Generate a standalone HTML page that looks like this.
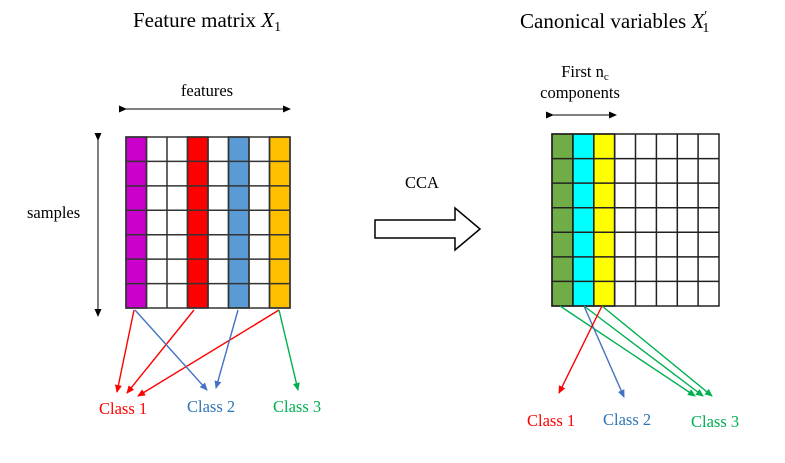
<!DOCTYPE html>
<html><head><style>
body{margin:0;width:785px;height:458px;background:#fff;overflow:hidden}
svg{font-family:"Liberation Serif",serif}
</style></head><body>
<svg width="785" height="458" viewBox="0 0 785 458">
<defs>
<marker id="k" markerWidth="8" markerHeight="8" refX="7" refY="4" orient="auto" markerUnits="userSpaceOnUse"><path d="M0,0.5 L8,4 L0,7.5z" fill="#000"/></marker>
<marker id="r" markerWidth="8" markerHeight="8" refX="7" refY="4" orient="auto" markerUnits="userSpaceOnUse"><path d="M0,0.5 L8,4 L0,7.5z" fill="#ff0000"/></marker>
<marker id="b" markerWidth="8" markerHeight="8" refX="7" refY="4" orient="auto" markerUnits="userSpaceOnUse"><path d="M0,0.5 L8,4 L0,7.5z" fill="#4472c4"/></marker>
<marker id="g" markerWidth="8" markerHeight="8" refX="7" refY="4" orient="auto" markerUnits="userSpaceOnUse"><path d="M0,0.5 L8,4 L0,7.5z" fill="#00b050"/></marker>
</defs>
<text x="207" y="27" font-size="21" text-anchor="middle">Feature matrix <tspan font-style="italic">X</tspan><tspan font-size="14" dy="4">1</tspan></text>
<text x="520" y="28" font-size="21">Canonical variables <tspan font-style="italic">X</tspan><tspan font-size="14" dy="-8">′</tspan><tspan font-size="14" dy="12" dx="-5">1</tspan></text>
<text x="207" y="96" font-size="16.5" text-anchor="middle">features</text>
<line x1="126" y1="109" x2="290" y2="109" stroke="#000" marker-start="url(#k)" marker-end="url(#k)"/>
<text x="27" y="218" font-size="16.5">samples</text>
<line x1="98" y1="140" x2="98" y2="316" stroke="#000" marker-start="url(#k)" marker-end="url(#k)"/>
<g stroke="#333" stroke-width="1.5">
<rect x="126" y="137" width="20.5" height="171" fill="#cc00cc"/>
<rect x="187.5" y="137" width="20.5" height="171" fill="#ff0000"/>
<rect x="228.5" y="137" width="20.5" height="171" fill="#5b9bd5"/>
<rect x="269.5" y="137" width="20.5" height="171" fill="#ffc000"/>
<rect x="126" y="137" width="164" height="171" fill="none"/>
<path d="M146.5 137V308M167 137V308M187.5 137V308M208 137V308M228.5 137V308M249 137V308M269.5 137V308M126 161.4H290M126 185.9H290M126 210.3H290M126 234.7H290M126 259.1H290M126 283.6H290"/>
</g>
<g stroke-width="1.4" fill="none">
<line x1="134" y1="310" x2="117" y2="392" stroke="#ff0000" marker-end="url(#r)"/>
<line x1="194" y1="310" x2="127" y2="393" stroke="#ff0000" marker-end="url(#r)"/>
<line x1="279" y1="310" x2="138" y2="396" stroke="#ff0000" marker-end="url(#r)"/>
<line x1="135" y1="310" x2="207" y2="390" stroke="#4472c4" marker-end="url(#b)"/>
<line x1="238" y1="310" x2="216" y2="388" stroke="#4472c4" marker-end="url(#b)"/>
<line x1="279" y1="310" x2="298" y2="390" stroke="#00b050" marker-end="url(#g)"/>
</g>
<text x="99" y="414" font-size="16.5" fill="#ff0000">Class 1</text>
<text x="187" y="412" font-size="16.5" fill="#2e75b6">Class 2</text>
<text x="273" y="412" font-size="16.5" fill="#00b050">Class 3</text>
<text x="422" y="188" font-size="16.5" text-anchor="middle">CCA</text>
<path d="M375 220H455V208L480 229L455 250V238H375Z" fill="#fff" stroke="#000" stroke-width="1.5"/>
<text x="585" y="77" font-size="16.5" text-anchor="middle">First n<tspan font-size="11" dy="3">c</tspan></text>
<text x="580" y="98" font-size="16.5" text-anchor="middle">components</text>
<line x1="553" y1="115" x2="616" y2="115" stroke="#000" marker-start="url(#k)" marker-end="url(#k)"/>
<g stroke="#222" stroke-width="1.5">
<rect x="552" y="134" width="20.9" height="172" fill="#70ad47"/>
<rect x="572.9" y="134" width="20.9" height="172" fill="#00ffff"/>
<rect x="593.8" y="134" width="20.9" height="172" fill="#ffff00"/>
<rect x="552" y="134" width="167" height="172" fill="none"/>
<path d="M572.9 134V306M593.8 134V306M614.6 134V306M635.5 134V306M656.4 134V306M677.3 134V306M698.1 134V306M552 158.6H719M552 183.1H719M552 207.7H719M552 232.3H719M552 256.9H719M552 281.4H719"/>
</g>
<g stroke-width="1.4" fill="none">
<line x1="560" y1="306" x2="695" y2="396" stroke="#00b050" marker-end="url(#g)"/>
<line x1="584" y1="306" x2="703" y2="396" stroke="#00b050" marker-end="url(#g)"/>
<line x1="602" y1="306" x2="712" y2="396" stroke="#00b050" marker-end="url(#g)"/>
<line x1="584" y1="306" x2="624" y2="397" stroke="#4472c4" marker-end="url(#b)"/>
<line x1="602" y1="306" x2="559" y2="393" stroke="#ff0000" marker-end="url(#r)"/>
</g>
<text x="527" y="426" font-size="16.5" fill="#ff0000">Class 1</text>
<text x="603" y="425" font-size="16.5" fill="#2e75b6">Class 2</text>
<text x="691" y="427" font-size="16.5" fill="#00b050">Class 3</text>
</svg>
</body></html>
